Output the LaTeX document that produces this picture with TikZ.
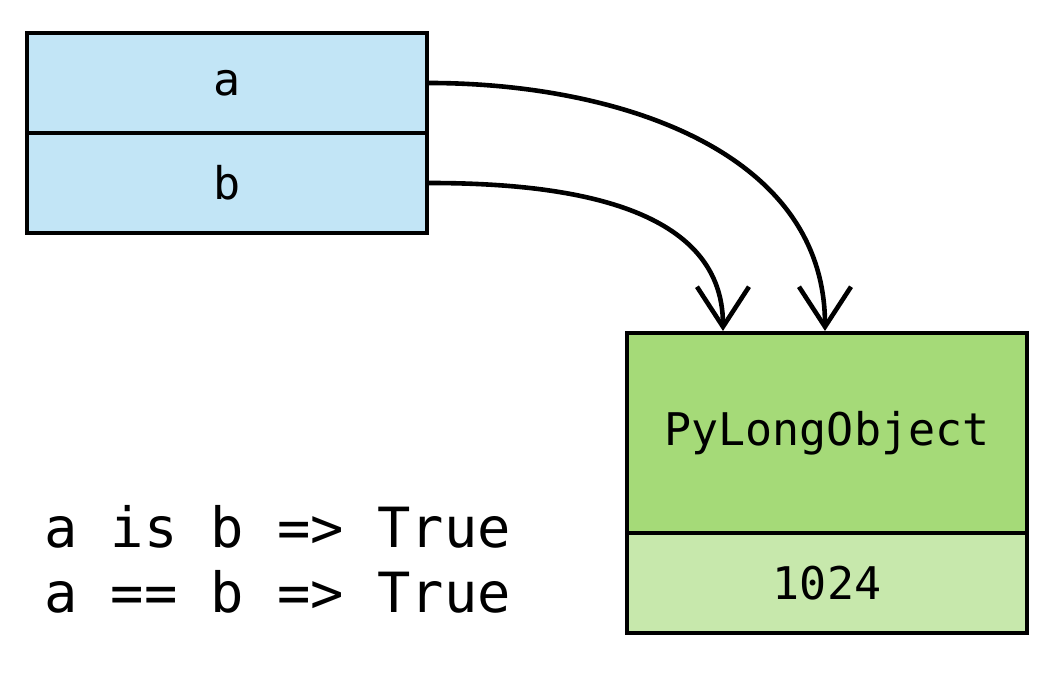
\documentclass[tikz,border=0pt]{standalone}
\usepackage{fontspec}
\newfontfamily\codefont{DejaVu Sans Mono}
\definecolor{lightblue}{RGB}{194,229,246}
\definecolor{midgreen}{RGB}{165,218,120}
\definecolor{lightgreen}{RGB}{199,232,172}
\usetikzlibrary{arrows.meta}
\tikzstyle{base}=[x=0.025cm, y=-0.025cm, line width=0.1cm, inner sep=0pt]
\tikzstyle{cell}=[draw, rectangle, minimum width=10cm, minimum height=2.5cm, font=\codefont\fontsize{32}{38}\selectfont]
\tikzstyle{ref}=[line width=0.115cm, -{Straight Barb[length=1cm, width=1.3cm, sharp]}]

\begin{document}
\begin{tikzpicture}[base]
    \path [use as bounding box] (0,0) rectangle (1048,682);
        % names
        \node [cell, fill=lightblue] (a) at (227,83) {a};
        \node [cell, fill=lightblue] (b) at (227,183) {b};
        % object
        \node [cell, fill=midgreen, minimum height=5cm] (obj) at (827,433) {PyLongObject};
        \node [cell, fill=lightgreen] (val) at (827,583) {1024};
        % references
        \draw [ref] (a.east) to[out=0, in=90] ([xshift=-0.05cm]obj.north);
        \draw [ref] (b.east) to[out=0, in=90] ([xshift=-2.6cm]obj.north);
        \node [anchor=base west, align=left, font=\codefont\fontsize{39.4}{46}\selectfont] (cmp) at (42,612)
            {a is b => True\\a == b => True};
    \end{tikzpicture}
\end{document}
